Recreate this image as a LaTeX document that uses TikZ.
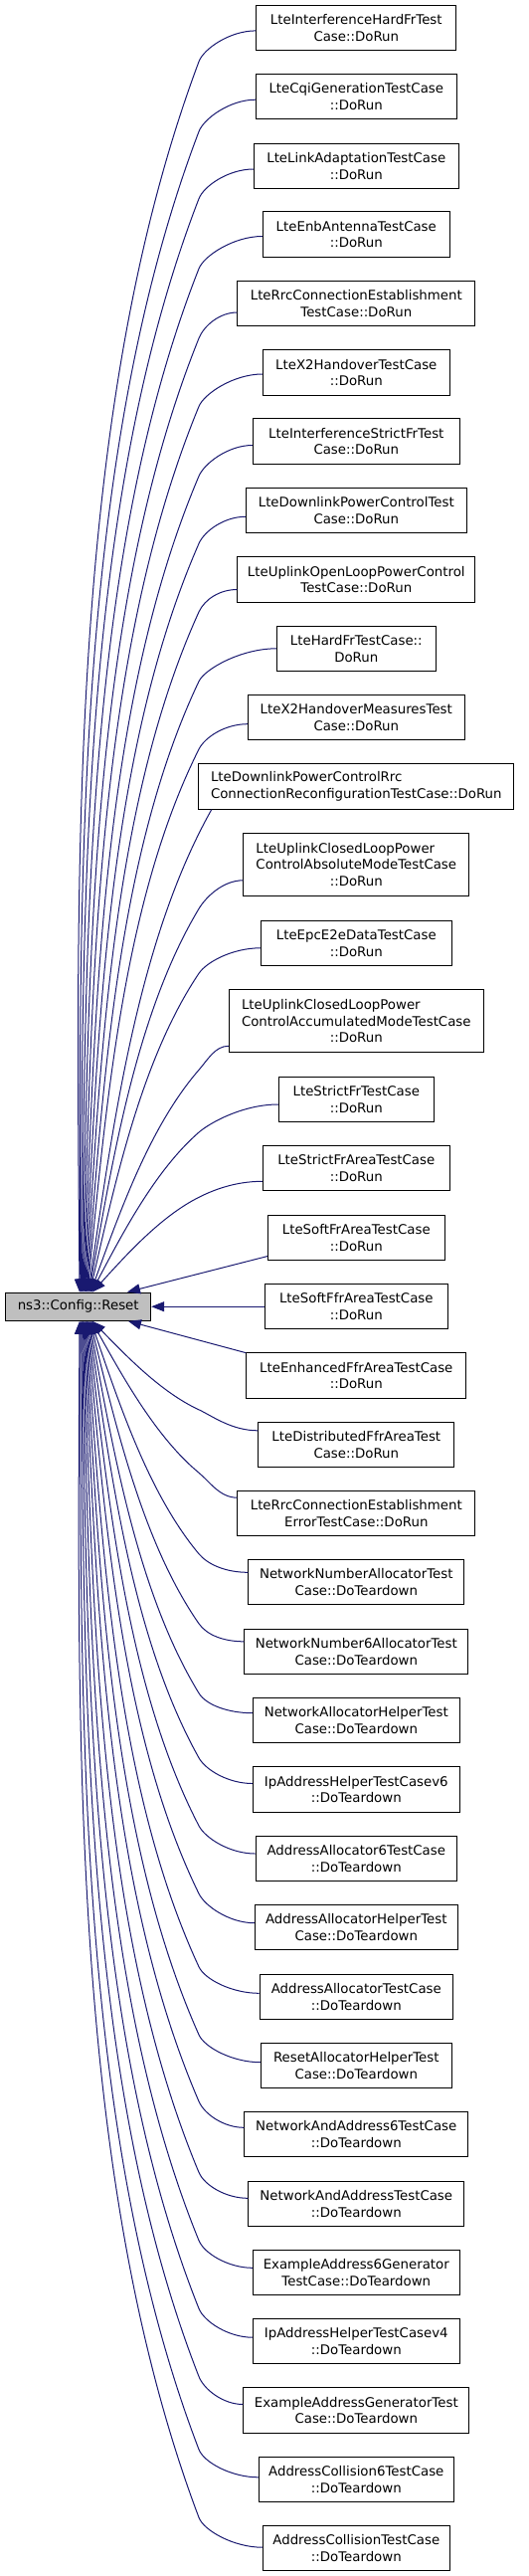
\documentclass[tikz,border=0pt]{standalone}
\usepackage{fontspec}
\setmainfont{DejaVu Sans}
\usetikzlibrary{calc,arrows.meta}
\definecolor{edgeblue}{HTML}{191970}
\definecolor{maingray}{HTML}{BFBFBF}
\begin{document}
\begin{tikzpicture}[x=1pt,y=-1pt,
  fn/.style={draw=black, line width=1pt, fill=white, inner sep=0pt, minimum height=45.3pt, align=center, font=\fontsize{13.33}{16.67}\selectfont},
  tall/.style={minimum height=62.8pt},
  calledge/.style={draw=edgeblue, line width=1pt, -{Triangle[length=13pt,width=10pt]}}]
\useasboundingbox (0,0) rectangle (531,2589);
\node[fn, fill=maingray, minimum width=146pt, minimum height=28.3pt] (main) at (78.7,1313.2) {ns3::Config::Reset};
\node[fn, minimum width=201.3pt] (b1) at (358.3,27.9) {LteInterferenceHardFrTest\\Case::DoRun};
\node[fn, minimum width=202pt] (b2) at (358.3,97.2) {LteCqiGenerationTestCase\\::DoRun};
\node[fn, minimum width=206pt] (b3) at (358.3,166.7) {LteLinkAdaptationTestCase\\::DoRun};
\node[fn, minimum width=188pt] (b4) at (358.3,235.5) {LteEnbAntennaTestCase\\::DoRun};
\node[fn, minimum width=238.7pt] (b5) at (358.3,305.3) {LteRrcConnectionEstablishment\\TestCase::DoRun};
\node[fn, minimum width=188pt] (b6) at (358.3,374.5) {LteX2HandoverTestCase\\::DoRun};
\node[fn, minimum width=208pt] (b7) at (358.3,443.5) {LteInterferenceStrictFrTest\\Case::DoRun};
\node[fn, minimum width=222pt] (b8) at (358.3,513.3) {LteDownlinkPowerControlTest\\Case::DoRun};
\node[fn, minimum width=238.7pt] (b9) at (358.3,582.5) {LteUplinkOpenLoopPowerControl\\TestCase::DoRun};
\node[fn, minimum width=160pt] (b10) at (358.3,651.8) {LteHardFrTestCase::\\DoRun};
\node[fn, minimum width=218pt] (b11) at (358.3,721) {LteX2HandoverMeasuresTest\\Case::DoRun};
\node[fn, minimum width=316.7pt, align=left] (b12) at (358.3,790.5) {LteDownlinkPowerControlRrc\\ConnectionReconfigurationTestCase::DoRun};
\node[fn, tall, minimum width=226.7pt] (b13) at (358.3,868.8) {\rlap{LteUplinkClosedLoopPower}\phantom{ControlAbsoluteModeTestCase}\\ControlAbsoluteModeTestCase\\::DoRun};
\node[fn, minimum width=191.7pt] (b14) at (358.3,947.8) {LteEpcE2eDataTestCase\\::DoRun};
\node[fn, tall, minimum width=256pt] (b15) at (358.3,1026.3) {\rlap{LteUplinkClosedLoopPower}\phantom{ControlAccumulatedModeTestCase}\\ControlAccumulatedModeTestCase\\::DoRun};
\node[fn, minimum width=156pt] (b16) at (358.3,1105) {LteStrictFrTestCase\\::DoRun};
\node[fn, minimum width=188pt] (b17) at (358.3,1174.3) {LteStrictFrAreaTestCase\\::DoRun};
\node[fn, minimum width=177.7pt] (b18) at (358.3,1243.8) {LteSoftFrAreaTestCase\\::DoRun};
\node[fn, minimum width=184pt] (b19) at (358.3,1313.2) {LteSoftFfrAreaTestCase\\::DoRun};
\node[fn, minimum width=221pt] (b20) at (358.3,1382.5) {LteEnhancedFfrAreaTestCase\\::DoRun};
\node[fn, minimum width=196.7pt] (b21) at (358.3,1451.8) {LteDistributedFfrAreaTest\\Case::DoRun};
\node[fn, minimum width=238.7pt] (b22) at (358.3,1521.2) {LteRrcConnectionEstablishment\\ErrorTestCase::DoRun};
\node[fn, minimum width=217pt] (b23) at (358.3,1590.3) {NetworkNumberAllocatorTest\\Case::DoTeardown};
\node[fn, minimum width=224.7pt] (b24) at (358.3,1659.8) {NetworkNumber6AllocatorTest\\Case::DoTeardown};
\node[fn, minimum width=207.7pt] (b25) at (358.3,1729.2) {NetworkAllocatorHelperTest\\Case::DoTeardown};
\node[fn, minimum width=207.7pt] (b26) at (358.3,1798.5) {IpAddressHelperTestCasev6\\::DoTeardown};
\node[fn, minimum width=202.3pt] (b27) at (358.3,1868) {AddressAllocator6TestCase\\::DoTeardown};
\node[fn, minimum width=203.7pt] (b28) at (358.3,1937.2) {AddressAllocatorHelperTest\\Case::DoTeardown};
\node[fn, minimum width=194.3pt] (b29) at (358.3,2006.7) {AddressAllocatorTestCase\\::DoTeardown};
\node[fn, minimum width=191.7pt] (b30) at (358.3,2075.7) {ResetAllocatorHelperTest\\Case::DoTeardown};
\node[fn, minimum width=224.7pt] (b31) at (358.3,2145) {NetworkAndAddress6TestCase\\::DoTeardown};
\node[fn, minimum width=217pt] (b32) at (358.3,2214.7) {NetworkAndAddressTestCase\\::DoTeardown};
\node[fn, minimum width=207.7pt] (b33) at (358.3,2283.8) {ExampleAddress6Generator\\TestCase::DoTeardown};
\node[fn, minimum width=207.7pt] (b34) at (358.3,2353.2) {IpAddressHelperTestCasev4\\::DoTeardown};
\node[fn, minimum width=226.7pt] (b35) at (358.3,2422.5) {ExampleAddressGeneratorTest\\Case::DoTeardown};
\node[fn, minimum width=195.7pt] (b36) at (358.3,2491.8) {AddressCollision6TestCase\\::DoTeardown};
\node[fn, minimum width=188pt] (b37) at (358.3,2561.2) {AddressCollisionTestCase\\::DoTeardown};
\coordinate (X) at (200,0);
% upper edges
\foreach \i/\dy/\dq/\eo in {1/3/34/1.3, 2/3/35/2.1, 3/3.3/33/2.9, 4/2/34.5/3.7, 5/8.7/34.7/4.5, 6/1.5/34/5.3, 7/4/35/6.1, 8/6/33/6.9, 9/10/32.5/7.7, 10/0/33/8.5, 11/6.7/32/9.3, 13/16/44.5/10.9, 14/5/30.5/11.7, 15/25/49/12.5, 16/5/33/13.3, 17/13/29/14.3}
{
  \path ($(b\i.west)+(0,\dy)$) coordinate (s) (b\i.center -| X) coordinate (qq) ($(main.north)+(\eo,0)$) coordinate (e);
  \path ($(qq)+(0,\dq)$) coordinate (q) (s -| X) coordinate (sh);
  \path ($(q)!0.3!-15:(e)$) coordinate (p1) ($(e)!0.35!6:(q)$) coordinate (p2) ($(s)!0.45!(sh)$) coordinate (c1);
  \path ($(q)!14pt!180:(p1)$) coordinate (c2);
  \draw[calledge] (s) .. controls (c1) and (c2) .. (q) .. controls (p1) and (p2) .. (e);
}
% box 12 leaves from its bottom side
\path ($(b12.south west)+(13.3,0)$) coordinate (s12) ($(main.north)+(10.1,0)$) coordinate (e12);
\path ($(s12)!0.3!-15:(e12)$) coordinate (p12a) ($(e12)!0.35!6:(s12)$) coordinate (p12b);
\draw[calledge] (s12) .. controls (p12a) and (p12b) .. (e12);
% near edges
\draw[calledge] ($(b18.south west)+(0,-4.4)$) -- ($(main.north)+(49.3,0)$);
\draw[calledge] (b19.west) -- (main.east);
\draw[calledge] ($(b20.north west)+(0,0.3)$) -- ($(main.south)+(50.3,0)$);
% lower edges
\foreach \i/\dy/\dq/\eo in {21/-14/-35/14.3, 22/-16/-41/13.5, 23/-10/-28.6/12.7, 24/-10/-28/11.9, 25/-7.5/-27.5/11.1, 26/-6/-31.8/10.3, 27/-5/-33/9.5, 28/-4.5/-34/8.7, 29/-3.4/-30/7.9, 30/-3/-30.7/7.1, 31/-6.7/-33/6.3, 32/-5.4/-31.4/5.5, 33/-4.5/-32/4.7, 34/-4/-33/3.9, 35/-6/-34/3.1, 36/-2/-30/2.2, 37/-1/-31/1.3}
{
  \path ($(b\i.west)+(0,\dy)$) coordinate (s) (b\i.center -| X) coordinate (qq) ($(main.south)+(\eo,0)$) coordinate (e);
  \path ($(qq)+(0,\dq)$) coordinate (q) (s -| X) coordinate (sh);
  \path ($(q)!0.3!15:(e)$) coordinate (p1) ($(e)!0.35!-6:(q)$) coordinate (p2) ($(s)!0.45!(sh)$) coordinate (c1);
  \path ($(q)!14pt!180:(p1)$) coordinate (c2);
  \draw[calledge] (s) .. controls (c1) and (c2) .. (q) .. controls (p1) and (p2) .. (e);
}
\end{tikzpicture}
\end{document}
